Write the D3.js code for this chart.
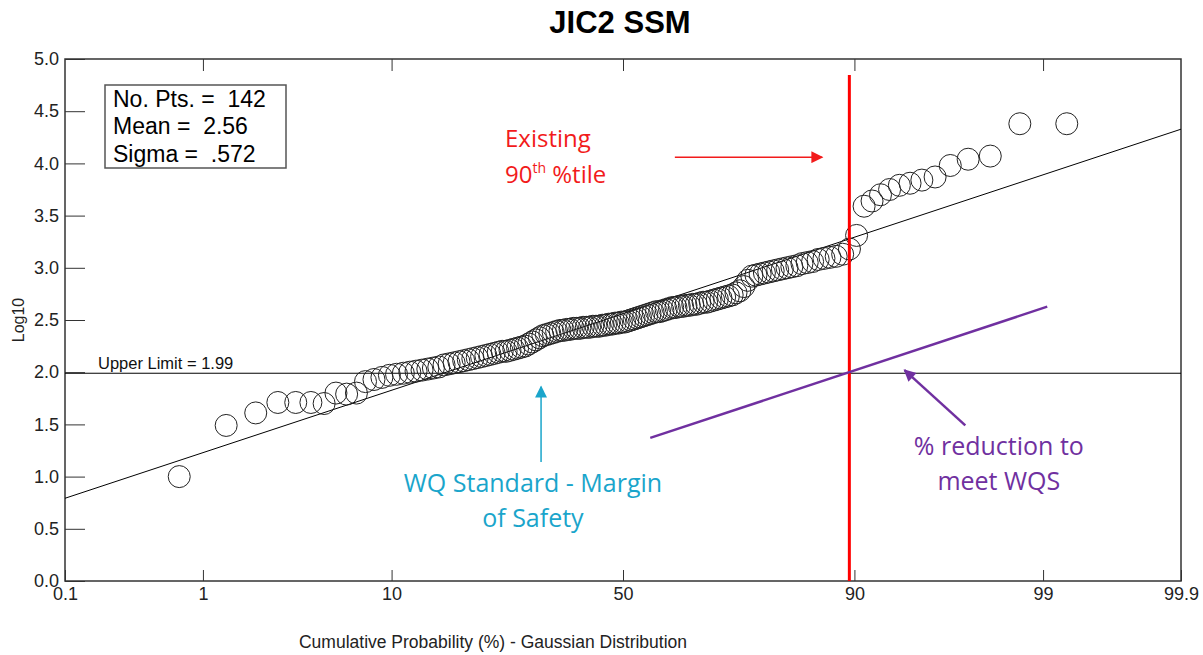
<!DOCTYPE html>
<html>
<head>
<meta charset="utf-8">
<script src="https://cdn.jsdelivr.net/npm/d3@7/dist/d3.min.js"></script>
<style>
  html, body { margin: 0; padding: 0; background: #fff; }
  svg { display: block; }
</style>
</head>
<body>
<svg id="chart" width="1203" height="655"></svg>
<script>
// ---------------- DATA ----------------
const title = "JIC2 SSM";
const xTickValues = [0.1, 1, 10, 50, 90, 99, 99.9];
const xTickLabels = ["0.1", "1", "10", "50", "90", "99", "99.9"];
const yTickValues = [0, 0.5, 1, 1.5, 2, 2.5, 3, 3.5, 4, 4.5, 5];
const yTickLabels = ["0.0", "0.5", "1.0", "1.5", "2.0", "2.5", "3.0", "3.5", "4.0", "4.5", "5.0"];
const statsLines = ["No. Pts. =  142", "Mean =  2.56", "Sigma =  .572"];
const fitMean = 2.56;
const fitSigma = 0.572;
const upperLimit = 1.99;
const upperLimitLabel = "Upper Limit = 1.99";
// sorted log10 observations (142 points)
const log10Values = [
  1.00, 1.49, 1.61, 1.71, 1.71, 1.71, 1.70, 1.80, 1.79, 1.80,
  1.91, 1.93, 1.95, 1.97, 1.98, 1.99, 2.00, 2.01, 2.02, 2.03,
  2.04, 2.05, 2.07, 2.08, 2.09, 2.10, 2.11, 2.12, 2.13, 2.14,
  2.15, 2.16, 2.17, 2.18, 2.19, 2.20, 2.20, 2.21, 2.22, 2.23,
  2.24, 2.25, 2.27, 2.29, 2.31, 2.33, 2.35, 2.36, 2.37, 2.38,
  2.39, 2.40, 2.40, 2.41, 2.41, 2.42, 2.42, 2.42, 2.43, 2.43,
  2.43, 2.44, 2.44, 2.44, 2.45, 2.45, 2.46, 2.46, 2.47, 2.47,
  2.48, 2.48, 2.49, 2.50, 2.51, 2.52, 2.53, 2.54, 2.55, 2.56,
  2.57, 2.58, 2.58, 2.59, 2.60, 2.61, 2.62, 2.62, 2.63, 2.63,
  2.64, 2.64, 2.65, 2.65, 2.66, 2.67, 2.67, 2.68, 2.69, 2.70,
  2.71, 2.72, 2.73, 2.74, 2.76, 2.78, 2.82, 2.88, 2.92, 2.93,
  2.94, 2.95, 2.96, 2.97, 2.98, 2.99, 3.00, 3.01, 3.02, 3.04,
  3.05, 3.06, 3.08, 3.09, 3.10, 3.11, 3.13, 3.18, 3.31, 3.59,
  3.64, 3.70, 3.75, 3.79, 3.81, 3.84, 3.87, 3.98, 4.04, 4.07,
  4.38, 4.38
];
// annotations (percent, log10)
const existingP90 = 89.5;
const shiftedMean = 1.284;          // fitted line shifted to meet WQS at existing 90th %tile
const reductionLineP = [56, 99.06];
const redArrow = { p0: 61.3, p1: 86.5, y: 4.06 };
const cyanArrow = { p: 32.5, y0: 1.14, y1: 1.86 };
const purpleArrow = { p0: 97.1, y0: 1.49, p1: 94.05, y1: 2.02 };
const wqText = { p: 30.9, lines: ["WQ Standard - Margin", "of Safety"] };
const redText = { p: 98.13, lines: ["% reduction to", "meet WQS"] };

// ---------------- HELPERS ----------------
function probit(p) {
  const a = [-3.969683028665376e+01, 2.209460984245205e+02, -2.759285104469687e+02, 1.383577518672690e+02, -3.066479806614716e+01, 2.506628277459239e+00];
  const b = [-5.447609879822406e+01, 1.615858368580409e+02, -1.556989798598866e+02, 6.680131188771972e+01, -1.328068155288572e+01];
  const c = [-7.784894002430293e-03, -3.223964580411365e-01, -2.400758277161838e+00, -2.549732539343734e+00, 4.374664141464968e+00, 2.938163982698783e+00];
  const d = [7.784695709041462e-03, 3.224671290700398e-01, 2.445134137142996e+00, 3.754408661907416e+00];
  const pl = 0.02425, ph = 1 - pl;
  let q, r;
  if (p < pl) {
    q = Math.sqrt(-2 * Math.log(p));
    return (((((c[0]*q+c[1])*q+c[2])*q+c[3])*q+c[4])*q+c[5]) / ((((d[0]*q+d[1])*q+d[2])*q+d[3])*q+1);
  } else if (p <= ph) {
    q = p - 0.5; r = q*q;
    return (((((a[0]*r+a[1])*r+a[2])*r+a[3])*r+a[4])*r+a[5])*q / (((((b[0]*r+b[1])*r+b[2])*r+b[3])*r+b[4])*r+1);
  } else {
    q = Math.sqrt(-2 * Math.log(1 - p));
    return -(((((c[0]*q+c[1])*q+c[2])*q+c[3])*q+c[4])*q+c[5]) / ((((d[0]*q+d[1])*q+d[2])*q+d[3])*q+1);
  }
}

// ---------------- LAYOUT ----------------
const L = 65, R = 1181, T = 59, B = 581;
const svg = d3.select("#chart");
const zScale = d3.scaleLinear().domain([probit(0.001), probit(0.999)]).range([L, R]);
const x = p => zScale(probit(p / 100));
const y = d3.scaleLinear().domain([0, 5]).range([B, T]);

const RED = "#f21b1b", CYAN = "#1aa5cb", PURPLE = "#7030a0", AXIS = "#333";
const ANNOT_FONT = "'Open Sans', 'Noto Sans', sans-serif";
const SANS = "'Liberation Sans', Arial, sans-serif";

// title
svg.append("text").attr("x", 620).attr("y", 33).attr("text-anchor", "middle")
  .attr("font-family", SANS).attr("font-weight", "bold").attr("font-size", 31)
  .attr("fill", "#000").text(title);

// axes
const zTicks = xTickValues.map(p => probit(p / 100));
const xAxisB = d3.axisBottom(zScale).tickValues(zTicks)
  .tickFormat((d, i) => xTickLabels[i]).tickSizeInner(-11).tickSizeOuter(0).tickPadding(6);
const gxb = svg.append("g").attr("transform", `translate(0,${B})`).call(xAxisB);
gxb.select(".domain").remove();
gxb.selectAll("line").attr("stroke", AXIS);
gxb.selectAll("text").attr("font-family", SANS).attr("font-size", 18).attr("fill", "#222");

const xAxisT = d3.axisTop(zScale).tickValues(zTicks.slice(1, -1))
  .tickFormat("").tickSizeInner(-12).tickSizeOuter(0);
const gxt = svg.append("g").attr("transform", `translate(0,${T})`).call(xAxisT);
gxt.select(".domain").remove();
gxt.selectAll("line").attr("stroke", AXIS);

const yAxis = d3.axisLeft(y).tickValues(yTickValues)
  .tickFormat((d, i) => yTickLabels[i]).tickSizeInner(-20).tickSizeOuter(0).tickPadding(6);
const gy = svg.append("g").attr("transform", `translate(${L},0)`).call(yAxis);
gy.select(".domain").remove();
gy.selectAll("line").attr("stroke", AXIS);
gy.selectAll("text").attr("font-family", SANS).attr("font-size", 18).attr("fill", "#222");

// frame
svg.append("rect").attr("x", L).attr("y", T).attr("width", R - L).attr("height", B - T)
  .attr("fill", "none").attr("stroke", AXIS).attr("stroke-width", 1.5);

// axis titles
svg.append("text").attr("x", 493).attr("y", 648).attr("text-anchor", "middle")
  .attr("font-family", SANS).attr("font-size", 17.5).attr("fill", "#222")
  .text("Cumulative Probability (%) - Gaussian Distribution");
svg.append("text").attr("transform", `translate(24,${y(2.5)}) rotate(-90)`).attr("text-anchor", "middle")
  .attr("font-family", SANS).attr("font-size", 16).attr("fill", "#222").text("Log10");

// upper limit line
svg.append("line").attr("x1", L).attr("x2", R).attr("y1", y(upperLimit)).attr("y2", y(upperLimit))
  .attr("stroke", "#000").attr("stroke-width", 1);
svg.append("text").attr("x", 98).attr("y", y(upperLimit) - 4)
  .attr("font-family", SANS).attr("font-size", 16.5).attr("fill", "#111").text(upperLimitLabel);

// fitted line
const zMin = probit(0.001), zMax = probit(0.999);
svg.append("line")
  .attr("x1", zScale(zMin)).attr("y1", y(fitMean + fitSigma * zMin))
  .attr("x2", zScale(zMax)).attr("y2", y(fitMean + fitSigma * zMax))
  .attr("stroke", "#000").attr("stroke-width", 1);

// points
const n = log10Values.length;
svg.append("g").selectAll("circle").data(log10Values).join("circle")
  .attr("cx", (d, i) => x(100 * (i + 1) / (n + 1)))
  .attr("cy", d => y(d))
  .attr("r", 11)
  .attr("fill", "none").attr("stroke", "#222").attr("stroke-width", 1);

// stats box
svg.append("rect").attr("x", 105).attr("y", 85).attr("width", 181).attr("height", 83)
  .attr("fill", "#fff").attr("stroke", "#555").attr("stroke-width", 1.5);
statsLines.forEach((s, i) => {
  svg.append("text").attr("x", 113).attr("y", 107 + i * 27.3)
    .attr("font-family", SANS).attr("font-size", 23).attr("fill", "#000")
    .attr("xml:space", "preserve").style("white-space", "pre").text(s);
});

// arrow markers
const defs = svg.append("defs");
[["ar", RED], ["ac", CYAN], ["ap", PURPLE]].forEach(([id, col]) => {
  defs.append("marker").attr("id", id).attr("viewBox", "0 0 10 10")
    .attr("refX", 9).attr("refY", 5).attr("markerWidth", 16).attr("markerHeight", 12)
    .attr("markerUnits", "userSpaceOnUse").attr("orient", "auto")
    .append("path").attr("d", "M0,0 L10,5 L0,10 Z").attr("fill", col);
});

// existing 90th percentile red line
svg.append("line").attr("x1", x(existingP90)).attr("x2", x(existingP90))
  .attr("y1", 75).attr("y2", B).attr("stroke", "#ff0000").attr("stroke-width", 3);

// reduction (purple) line
svg.append("line")
  .attr("x1", x(reductionLineP[0])).attr("y1", y(shiftedMean + fitSigma * probit(reductionLineP[0] / 100)))
  .attr("x2", x(reductionLineP[1])).attr("y2", y(shiftedMean + fitSigma * probit(reductionLineP[1] / 100)))
  .attr("stroke", PURPLE).attr("stroke-width", 2.5);

// arrows
svg.append("line").attr("x1", x(redArrow.p0)).attr("x2", x(redArrow.p1))
  .attr("y1", y(redArrow.y)).attr("y2", y(redArrow.y))
  .attr("stroke", RED).attr("stroke-width", 1.5).attr("marker-end", "url(#ar)");
svg.append("line").attr("x1", x(cyanArrow.p)).attr("x2", x(cyanArrow.p))
  .attr("y1", y(cyanArrow.y0)).attr("y2", y(cyanArrow.y1))
  .attr("stroke", CYAN).attr("stroke-width", 1.5).attr("marker-end", "url(#ac)");
svg.append("line").attr("x1", x(purpleArrow.p0)).attr("y1", y(purpleArrow.y0))
  .attr("x2", x(purpleArrow.p1)).attr("y2", y(purpleArrow.y1))
  .attr("stroke", PURPLE).attr("stroke-width", 2.5).attr("marker-end", "url(#ap)");

// annotation texts
const ex = svg.append("text").attr("font-family", ANNOT_FONT).attr("font-size", 24).attr("fill", RED);
ex.append("tspan").attr("x", 505).attr("y", 147).text("Existing");
ex.append("tspan").attr("x", 505).attr("y", 183).text("90");
ex.append("tspan").attr("font-size", 14).attr("dy", -10).text("th");
ex.append("tspan").attr("dy", 10).text(" %tile");

const wq = svg.append("text").attr("font-family", ANNOT_FONT).attr("font-size", 25)
  .attr("fill", CYAN).attr("text-anchor", "middle");
wq.append("tspan").attr("x", x(wqText.p)).attr("y", 492).text(wqText.lines[0]);
wq.append("tspan").attr("x", x(wqText.p)).attr("y", 527).text(wqText.lines[1]);

const rd = svg.append("text").attr("font-family", ANNOT_FONT).attr("font-size", 25)
  .attr("fill", PURPLE).attr("text-anchor", "middle");
rd.append("tspan").attr("x", x(redText.p)).attr("y", 455).text(redText.lines[0]);
rd.append("tspan").attr("x", x(redText.p)).attr("y", 490).text(redText.lines[1]);
</script>
</body>
</html>
